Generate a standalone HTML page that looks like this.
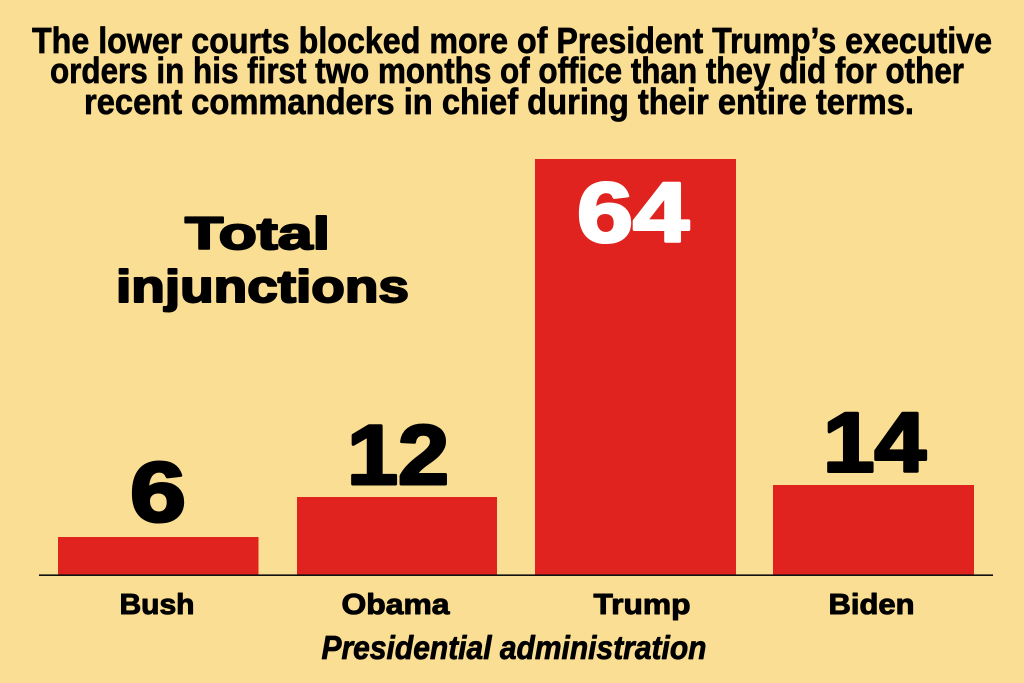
<!DOCTYPE html>
<html>
<head>
<meta charset="utf-8">
<style>
  html, body { margin: 0; padding: 0; background: #FADE93; }
  body { width: 1024px; height: 683px; overflow: hidden; }
  svg { display: block; }
  text { font-family: "Liberation Sans", "DejaVu Sans", sans-serif; font-weight: bold; fill: #000; stroke-linejoin: round; }
</style>
</head>
<body>
<svg width="1024" height="683" viewBox="0 0 1024 683" xmlns="http://www.w3.org/2000/svg">
  <rect x="0" y="0" width="1024" height="683" fill="#FADE93"/>

  <!-- Title -->
  <g stroke="#000" stroke-width="0.7">
  <text x="512" y="53" font-size="36" text-anchor="middle" textLength="960" lengthAdjust="spacingAndGlyphs">The lower courts blocked more of President Trump’s executive</text>
  <text x="507" y="83" font-size="36" text-anchor="middle" textLength="914" lengthAdjust="spacingAndGlyphs">orders in his first two months of office than they did for other</text>
  <text x="499" y="114" font-size="36" text-anchor="middle" textLength="830" lengthAdjust="spacingAndGlyphs">recent commanders in chief during their entire terms.</text>
  </g>

  <!-- Side label -->
  <g stroke="#000" stroke-width="2">
  <text x="257.5" y="249" font-size="45" text-anchor="middle" textLength="145" lengthAdjust="spacingAndGlyphs">Total</text>
  <text x="262.5" y="302" font-size="45" text-anchor="middle" textLength="293" lengthAdjust="spacingAndGlyphs">injunctions</text>
  </g>

  <!-- Bars -->
  <rect x="58" y="537" width="200.5" height="37.5" fill="#E0231F"/>
  <rect x="297" y="497" width="200" height="77.5" fill="#E0231F"/>
  <rect x="535" y="159" width="201" height="415.5" fill="#E0231F"/>
  <rect x="773" y="485" width="201" height="89.5" fill="#E0231F"/>

  <!-- Axis -->
  <line x1="39" y1="575.2" x2="993" y2="575.2" stroke="#111" stroke-width="1.6"/>

  <!-- Value labels -->
  <g stroke="#000" stroke-width="3">
  <text x="158" y="521" font-size="84" text-anchor="middle" textLength="56" lengthAdjust="spacingAndGlyphs">6</text>
  <text x="398" y="484" font-size="84" text-anchor="middle" textLength="102" lengthAdjust="spacingAndGlyphs">12</text>
  <text x="874.5" y="471.5" font-size="84" text-anchor="middle" textLength="103" lengthAdjust="spacingAndGlyphs">14</text>
  </g>
  <text x="633" y="241.5" font-size="84" text-anchor="middle" textLength="112" lengthAdjust="spacingAndGlyphs" style="fill:#fff" stroke="#fff" stroke-width="3">64</text>

  <!-- Category labels -->
  <g stroke="#000" stroke-width="1">
  <text x="157" y="614" font-size="29" text-anchor="middle" textLength="75" lengthAdjust="spacingAndGlyphs">Bush</text>
  <text x="395.5" y="614" font-size="29" text-anchor="middle" textLength="108" lengthAdjust="spacingAndGlyphs">Obama</text>
  <text x="642" y="614" font-size="29" text-anchor="middle" textLength="97" lengthAdjust="spacingAndGlyphs">Trump</text>
  <text x="871.5" y="614" font-size="29" text-anchor="middle" textLength="86" lengthAdjust="spacingAndGlyphs">Biden</text>
  </g>

  <!-- Axis title -->
  <text x="514" y="659" font-size="33" font-style="italic" text-anchor="middle" textLength="385" lengthAdjust="spacingAndGlyphs" stroke="#000" stroke-width="0.8">Presidential administration</text>
</svg>
</body>
</html>
